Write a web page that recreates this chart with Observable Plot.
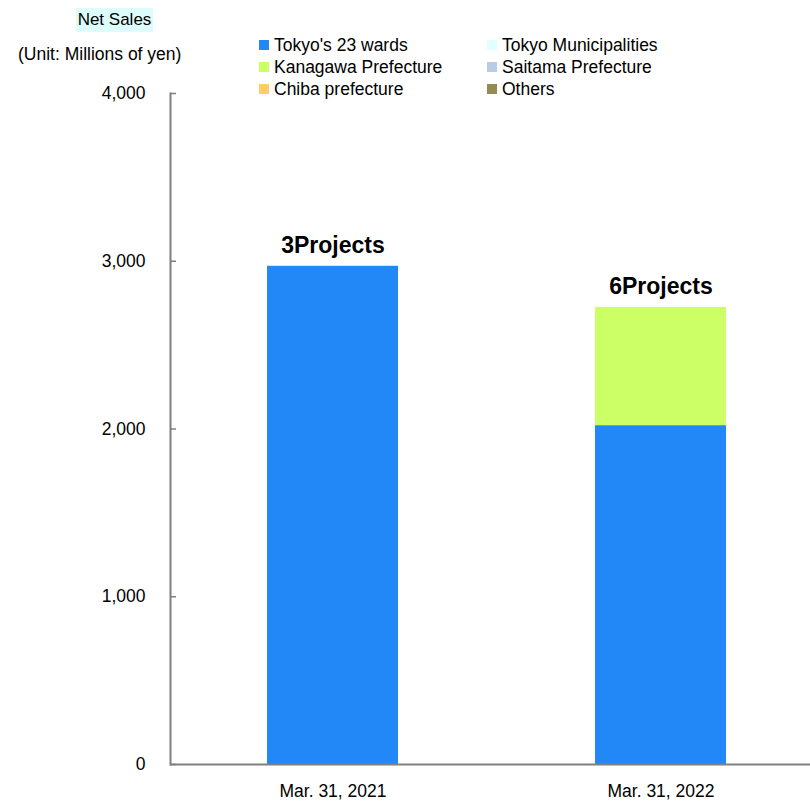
<!DOCTYPE html>
<html>
<head>
<meta charset="utf-8">
<script src="https://cdn.jsdelivr.net/npm/d3@7"></script>
<script src="https://cdn.jsdelivr.net/npm/@observablehq/plot@0.6"></script>
<style>
  html, body { margin: 0; padding: 0; background: #fff; }
  body { width: 810px; height: 803px; position: relative; overflow: hidden;
         font-family: "Liberation Sans Narrow", "Arial Narrow", "Liberation Sans", Arial, sans-serif; }
  #chart { position: absolute; left: 0; top: 0; }
  .title { position: absolute; left: 76px; top: 8px; width: 77px; text-align: center; background: #ddfcfc;
           font-size: 17px; color: #000; line-height: 24px; }
  .unit { position: absolute; left: 18px; top: 43px; font-size: 17.5px; color: #000; line-height: 22px; }
  .legend { position: absolute; left: 259px; top: 34px; display: grid;
            grid-template-columns: 228px 200px; row-gap: 0px; font-size: 17.5px; line-height: 22px; }
  .legend div { display: flex; align-items: center; white-space: nowrap; }
  .legend span.sw { display: inline-block; width: 10px; height: 10px; margin-right: 5px; }
</style>
</head>
<body>
<div id="chart"></div>
<div class="title">Net Sales</div>
<div class="unit">(Unit: Millions of yen)</div>
<div class="legend" id="legend"></div>
<script>
const periods = ["Mar. 31, 2021", "Mar. 31, 2022"];
const seriesNames = ["Tokyo's 23 wards", "Tokyo Municipalities", "Kanagawa Prefecture", "Saitama Prefecture", "Chiba prefecture", "Others"];
const seriesColors = ["#2388f7", "#e0ffff", "#ccff66", "#b8cce4", "#ffcc66", "#948a54"];
const tokyo23 = [2970, 2020];
const tokyoMuni = [0, 0];
const kanagawa = [0, 705];
const saitama = [0, 0];
const chiba = [0, 0];
const others = [0, 0];
const projectLabels = ["3Projects", "6Projects"];
const yTicks = [0, 1000, 2000, 3000, 4000];

const seriesValues = [tokyo23, tokyoMuni, kanagawa, saitama, chiba, others];
const rows = [];
periods.forEach((p, i) => {
  seriesNames.forEach((s, j) => {
    rows.push({period: p, series: s, value: seriesValues[j][i]});
  });
});
const totals = periods.map((p, i) => ({
  period: p,
  total: seriesValues.reduce((a, v) => a + v[i], 0),
  label: projectLabels[i]
}));

const font = `"Liberation Sans Narrow", "Arial Narrow", "Liberation Sans", Arial, sans-serif`;

const chart = Plot.plot({
  width: 810,
  height: 803,
  marginTop: 93,
  marginBottom: 39,
  marginLeft: 170,
  marginRight: 0,
  style: {fontFamily: font, fontSize: "17.5px", color: "#000", background: "#fff"},
  x: {domain: periods, range: [267, 727], paddingInner: 0.6, paddingOuter: 0, label: null},
  y: {domain: [0, 4000], label: null},
  color: {domain: seriesNames, range: seriesColors},
  marks: [
    Plot.barY(rows, Plot.stackY({x: "period", y: "value", fill: "series", order: seriesNames})),
    Plot.axisY({ticks: yTicks, text: null, tickSize: 6, dx: 6, stroke: "#7f7f7f", strokeWidth: 1.5, label: null}),
    Plot.axisY({ticks: yTicks, tickFormat: d3.format(","), tickSize: 0, tickPadding: 25, label: null, fill: "#000"}),
    Plot.frame({anchor: "left", stroke: "#7f7f7f", strokeWidth: 2}),
    Plot.ruleY([0], {stroke: "#7f7f7f", strokeWidth: 2}),
    Plot.axisX({tickSize: 0, tickPadding: 20, label: null, fill: "#000"}),
    Plot.text(totals, {x: "period", y: "total", text: "label", dy: -21, fontWeight: "bold", fontSize: 23, fill: "#000"})
  ]
});
document.getElementById("chart").appendChild(chart);

const legend = document.getElementById("legend");
seriesNames.forEach((name, j) => {
  const d = document.createElement("div");
  const sw = document.createElement("span");
  sw.className = "sw";
  sw.style.background = seriesColors[j];
  d.appendChild(sw);
  d.appendChild(document.createTextNode(name));
  legend.appendChild(d);
});
</script>
</body>
</html>
